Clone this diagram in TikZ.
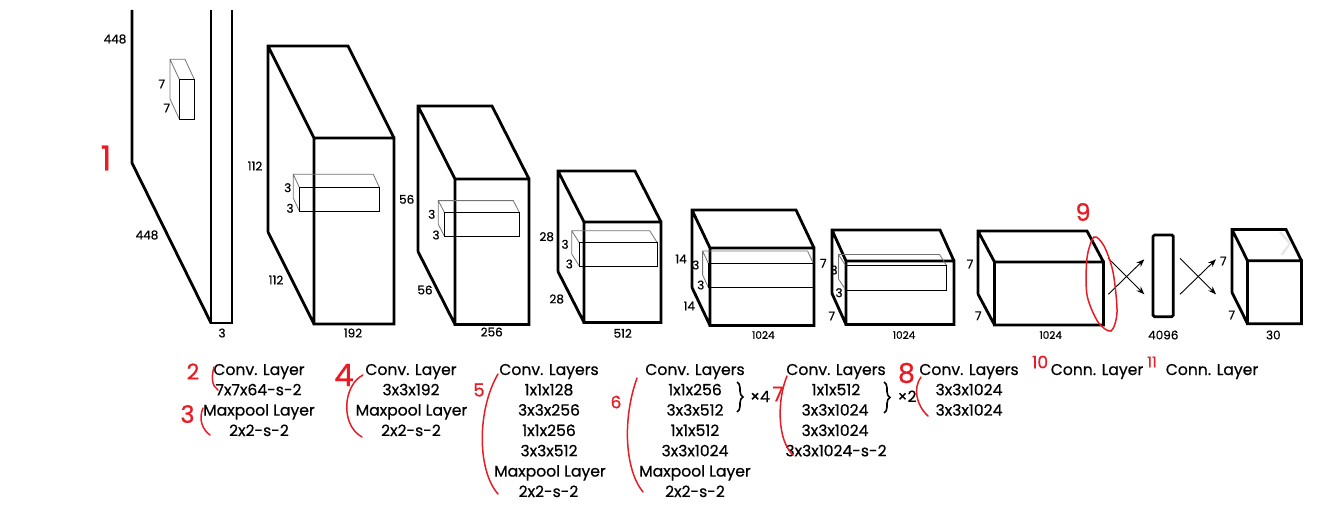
\documentclass[tikz,border=0pt]{standalone}
\usepackage{fontspec}
\setmainfont{Poppins}[FakeBold=0.6]
\usetikzlibrary{arrows.meta,decorations.pathreplacing}
\definecolor{annot}{RGB}{232,28,36}
\definecolor{kgray}{RGB}{115,115,115}
\tikzset{
  boxline/.style={line width=2.8pt, line join=miter, black},
  kfront/.style={line width=0.9pt, black},
  kback/.style={line width=0.8pt, kgray},
  dimlbl/.style={font=\fontsize{12}{14}\selectfont, inner sep=0pt},
  dimsm/.style={font=\fontsize{10.5}{12}\selectfont, inner sep=0pt},
  lbl/.style={font=\fontsize{15.6}{19}\selectfont, inner sep=0pt, anchor=base},
  fcarrow/.style={line width=0.9pt, -{Stealth[length=8pt,width=6pt]}},
  redpen/.style={annot, line width=1.5pt, line cap=round},
  rednum/.style={annot, inner sep=0pt, font=\fontsize{22}{24}\selectfont},
  bracebox/.style={decorate, decoration={brace, amplitude=6pt}, line width=1.6pt}
}
\newcommand\layercube[6]{% x0 y0 w h dx dy
  \draw[boxline] (#1,#2+#4) -- (#1,#2) -- (#1+#3,#2) -- (#1+#3+#5,#2+#6)
    (#1,#2) -- (#1+#5,#2+#6)
    (#1,#2+#4) -- (#1+#5,#2+#4+#6)
    (#1+#5,#2+#6) rectangle (#1+#3+#5,#2+#4+#6);
}
\newcommand\kernelbox[6]{% fx0 fy0 fx1 fy1 bx by
  \draw[kback] (#1,#4) -- (#1-#5,#4-#6) -- (#1-#5,#2-#6) -- (#3-#5,#2-#6) -- (#3,#2)
    (#1-#5,#2-#6) -- (#1,#2);
  \draw[kfront] (#1,#2) rectangle (#3,#4);
}
\begin{document}
\begin{tikzpicture}[x=1pt,y=-1pt]
\useasboundingbox (0,0) rectangle (1319,508);

% ---------- input layer ----------
\draw[boxline] (132,10) -- (132,163) -- (211,323);
\draw[boxline] (211,10) -- (211,323) -- (232,323) -- (232,10);
\kernelbox{179.3}{79.3}{194.3}{119}{9.3}{20}
\node[dimlbl] (d448a) at (115,39) {448};
\node[dimlbl] (d448b) at (147,235) {448};
\node[dimlbl] (d3a) at (222,333) {3};
\node[dimlbl] (k1a) at (161.7,84) {7};
\node[dimlbl] (k1b) at (166.7,108) {7};

% ---------- layer 2 ----------
\layercube{268}{46}{80}{186}{46}{92}
\kernelbox{299.3}{187.3}{379.3}{211}{6}{13}
\node[dimlbl] (d112a) at (255,166) {112};
\node[dimlbl] (d112b) at (276,280) {112};
\node[dimlbl] (d192) at (353,333) {192};
\node[dimlbl] (k2a) at (287.7,187.7) {3};
\node[dimlbl] (k2b) at (290,208.3) {3};

% ---------- layer 3 ----------
\layercube{418}{106}{74}{145.5}{37}{73}
\kernelbox{444.3}{212.3}{519.3}{236}{6}{11.7}
\node[dimlbl] (d56a) at (406.7,199.3) {56};
\node[dimlbl] (d56b) at (425,290) {56};
\node[dimlbl] (d256) at (491.7,332) {256};
\node[dimlbl] (k3a) at (431.7,214.3) {3};
\node[dimlbl] (k3b) at (436,235) {3};

% ---------- layer 4 ----------
\layercube{558}{171}{77}{100.5}{26}{51}
\kernelbox{579.3}{242.7}{657.3}{266}{7.6}{12}
\node[dimlbl] (d28a) at (546.7,236.7) {28};
\node[dimlbl] (d28b) at (556.7,299) {28};
\node[dimlbl] (d512) at (622.7,333.3) {512};
\node[dimlbl] (k4a) at (565,244.3) {3};
\node[dimlbl] (k4b) at (569.3,264) {3};

% ---------- layer 5 ----------
\layercube{692}{210}{104}{77.5}{18}{38}
\kernelbox{708.3}{263.3}{813.3}{287.3}{5.7}{12.3}
\node[dimlbl] (d14a) at (681,259) {14};
\node[dimlbl] (d14b) at (689.3,306) {14};
\node[dimsm] (d1024a) at (763.3,335) {1024};
\node[dimlbl] (k5a) at (695.7,265) {3};
\node[dimlbl] (k5b) at (700.7,285) {3};

% ---------- layer 6 ----------
\layercube{832}{230}{108}{63.5}{14}{31}
\kernelbox{845.7}{265.7}{946.7}{290}{7.3}{11.3}
\node[dimlbl] (d7a) at (823.3,263.3) {7};
\node[dimlbl] (d7b) at (831.7,316) {7};
\node[dimsm] (d1024b) at (904,335) {1024};
\node[dimlbl] (k6a) at (834,270) {3};
\node[dimlbl] (k6b) at (839,292.7) {3};

% ---------- layer 7 ----------
\layercube{978}{231}{109}{63}{16.5}{31}
\node[dimlbl] (d7c) at (970,264) {7};
\node[dimlbl] (d7d) at (978.3,315.7) {7};
\node[dimsm] (d1024c) at (1050.7,335) {1024};

% ---------- fully connected ----------
\coordinate (a1s) at (1108.3,294.3); \coordinate (a1e) at (1144.3,259.3);
\coordinate (a2s) at (1108.3,258.3); \coordinate (a2e) at (1144.3,294.3);
\draw[fcarrow] (a1s) -- (a1e);
\draw[fcarrow] (a2s) -- (a2e);
\draw[boxline, rounded corners=1.5pt] (1153,235) rectangle (1173.3,316.7);
\node[dimlbl] (d4096) at (1163.3,335) {4096};
\coordinate (b1s) at (1180,294.3); \coordinate (b1e) at (1216,259.3);
\coordinate (b2s) at (1180,258.3); \coordinate (b2e) at (1216,294.3);
\draw[fcarrow] (b1s) -- (b1e);
\draw[fcarrow] (b2s) -- (b2e);

% ---------- output ----------
\layercube{1232}{229.5}{54}{63}{15.5}{31.2}
\node[dimlbl] (d7e) at (1223.3,261) {7};
\node[dimlbl] (d7f) at (1231.7,315) {7};
\node[dimlbl] (d30) at (1273.3,335) {30};
\draw[gray!18, line width=2.5pt, line join=round] (1280,232) -- (1290,243.5) -- (1281.5,255);

% ---------- bottom captions ----------
\node[lbl] (c1a) at (259,375) {Conv. Layer};
\node[lbl] (c1b) at (258.5,395.3) {7x7x64-s-2};
\node[lbl] (c1c) at (259,415.6) {Maxpool Layer};
\node[lbl] (c1d) at (259,436) {2x2-s-2};

\node[lbl] (c2a) at (411,375) {Conv. Layer};
\node[lbl] (c2b) at (411,395.3) {3x3x192};
\node[lbl] (c2c) at (411.5,415.6) {Maxpool Layer};
\node[lbl] (c2d) at (411,436) {2x2-s-2};

\node[lbl] (c3a) at (549,375) {Conv. Layers};
\node[lbl] (c3b) at (549,395.3) {1x1x128};
\node[lbl] (c3c) at (549,415.6) {3x3x256};
\node[lbl] (c3d) at (549,436) {1x1x256};
\node[lbl] (c3e) at (549,456.3) {3x3x512};
\node[lbl] (c3f) at (550,476.6) {Maxpool Layer};
\node[lbl] (c3g) at (548.5,497) {2x2-s-2};

\node[lbl] (c4a) at (695,375) {Conv. Layers};
\node[lbl] (c4b) at (695,395.3) {1x1x256};
\node[lbl] (c4c) at (695,415.6) {3x3x512};
\node[lbl] (c4d) at (695,436) {1x1x512};
\node[lbl] (c4e) at (695,456.3) {3x3x1024};
\node[lbl] (c4f) at (695,476.6) {Maxpool Layer};
\node[lbl] (c4g) at (695,497) {2x2-s-2};
\coordinate (br4t) at (737,382); \coordinate (br4b) at (737,412);
\draw[bracebox] (br4t) -- (br4b);
\node[lbl] (x4) at (760,402) {×4};

\node[lbl] (c5a) at (836,375) {Conv. Layers};
\node[lbl] (c5b) at (836,395.3) {1x1x512};
\node[lbl] (c5c) at (835,415.6) {3x3x1024};
\node[lbl] (c5d) at (835,436) {3x3x1024};
\node[lbl] (c5e) at (836,456.3) {3x3x1024-s-2};
\coordinate (br5t) at (884,382); \coordinate (br5b) at (884,413);
\draw[bracebox] (br5t) -- (br5b);
\node[lbl] (x2) at (907,402) {×2};

\node[lbl] (c6a) at (969,375) {Conv. Layers};
\node[lbl] (c6b) at (969,395.3) {3x3x1024};
\node[lbl] (c6c) at (969,415.6) {3x3x1024};

\node[lbl] (c7a) at (1097,375) {Conn. Layer};
\node[lbl] (c8a) at (1212,375) {Conn. Layer};

% ---------- red hand annotations ----------
\node[rednum, font=\fontsize{34}{36}\selectfont] (r1) at (106,158) {1};
\node[rednum] (r2) at (193,371.5) {2};
\node[rednum, font=\fontsize{24}{26}\selectfont] (r3) at (187.5,414) {3};
\node[rednum, font=\fontsize{31}{33}\selectfont] (r4) at (344,375) {4};
\node[rednum, font=\fontsize{18}{20}\selectfont] (r5) at (479,390) {5};
\node[rednum, font=\fontsize{17}{19}\selectfont] (r6) at (616,402) {6};
\node[rednum, font=\fontsize{20}{22}\selectfont] (r7) at (778,394) {7};
\node[rednum, font=\fontsize{27}{29}\selectfont] (r8) at (906.5,373) {8};
\node[rednum, font=\fontsize{24}{26}\selectfont] (r9) at (1083,212) {9};
\node[rednum, font=\fontsize{17}{19}\selectfont] (r10) at (1040,362) {10};
\node[rednum, font=\fontsize{15}{17}\selectfont] (r11) at (1152,362) {11};

\draw[redpen] (214,367) .. controls (211,378) and (212,386) .. (218,390);
\draw[redpen] (203,408) .. controls (198,420) and (203,430) .. (210,435);
\draw[redpen] (363,375) .. controls (343,385) and (340,425) .. (362,437);
\draw[redpen] (498,374) .. controls (477,410) and (477,470) .. (498,494);
\draw[redpen] (637,378) .. controls (622,420) and (625,470) .. (643,492);
\draw[redpen] (787,376) .. controls (777,400) and (777,440) .. (793,455);
\draw[redpen] (921,377) .. controls (913,388) and (916,405) .. (928,416);
\draw[redpen] plot[smooth cycle] coordinates {(1094,237) (1087,258) (1087,295) (1098,322) (1111,331) (1117,312) (1113,272) (1104,246)};
\end{tikzpicture}
\end{document}
